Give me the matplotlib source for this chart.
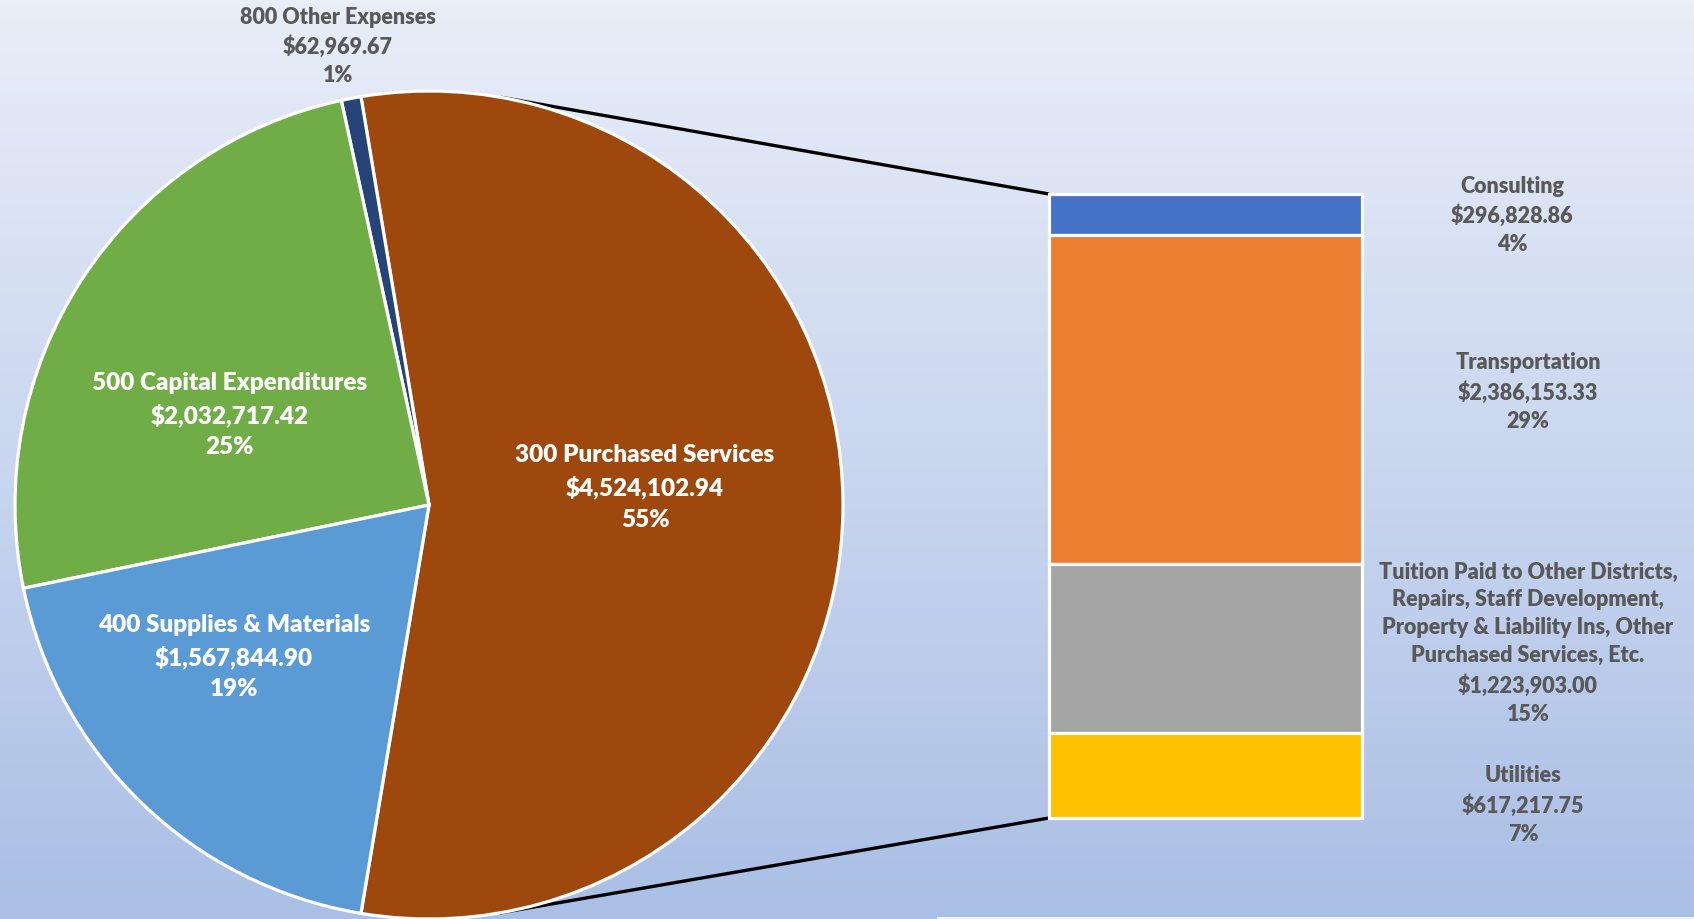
import numpy as np
import matplotlib
matplotlib.use("Agg")
import matplotlib.pyplot as plt
from matplotlib.lines import Line2D
from matplotlib.patches import Rectangle

# Main pie: expenditure categories (300 is broken out in the bar)
pie_names = ["300 Purchased Services", "800 Other Expenses",
             "500 Capital Expenditures", "400 Supplies & Materials"]
pie_values = [4524102.94, 62969.67, 2032717.42, 1567844.90]
pie_pcts = ["55%", "1%", "25%", "19%"]
pie_colors = ["#9E480E", "#264478", "#70AD47", "#5B9BD5"]

# Breakdown of 300 Purchased Services (top to bottom)
bar_names = ["Consulting", "Transportation",
             "Tuition Paid to Other Districts,\nRepairs, Staff Development,\n"
             "Property & Liability Ins, Other\nPurchased Services, Etc.",
             "Utilities"]
bar_values = [296828.86, 2386153.33, 1223903.00, 617217.75]
bar_pcts = ["4%", "29%", "15%", "7%"]
bar_colors = ["#4472C4", "#ED7D31", "#A5A5A5", "#FFC000"]

FONT = ["Lato", "DejaVu Sans"]
GRAY = "#595959"
W, H = 1694, 919
fig = plt.figure(figsize=(W / 100, H / 100), dpi=100)


def px_rect(x0, y0, x1, y1):
    """Figure-fraction rect from a pixel box measured from the top-left."""
    return [x0 / W, 1 - y1 / H, (x1 - x0) / W, (y1 - y0) / H]


# Background with vertical gradient
bg = fig.add_axes([0, 0, 1, 1])
bg.set_axis_off()
t = np.linspace(0, 1, 256)[:, None, None]
c_top = np.array([233, 238, 248]) / 255
c_bot = np.array([170, 191, 230]) / 255
bg.imshow(c_top + t * (c_bot - c_top), extent=[0, W, H, 0], aspect="auto")
bg.add_patch(Rectangle((937, 916.5), W - 937, 3, color="#F4F6FC", lw=0))
bg.set_xlim(0, W)
bg.set_ylim(H, 0)

# Pie geometry (pixels)
cx, cy, r = 429, 505, 414
pad = 12
pax = fig.add_axes(px_rect(cx - r - pad, cy - r - pad, cx + r + pad, cy + r + pad))
lim = (r + pad) / r
total = sum(pie_values)
half = pie_values[0] / total * 180
pax.pie(pie_values, colors=pie_colors, startangle=-half, counterclock=True,
        radius=1, wedgeprops=dict(edgecolor="white", linewidth=2.3))
pax.set_xlim(-lim, lim)
pax.set_ylim(-lim, lim)
pax.set_aspect("equal")
pax.set_axis_off()

# Stacked bar for the breakdown
bx0, by0, bx1, by1 = 1049, 194, 1362, 818
bax = fig.add_axes(px_rect(bx0, by0, bx1, by1))
sub_total = sum(bar_values)
bottom = 0.0
for v, c in zip(bar_values, bar_colors):
    bax.bar(0, v, bottom=bottom, width=1.0, color=c, edgecolor="white",
            linewidth=2.3, clip_on=False)
    bottom += v
bax.set_xlim(-0.5, 0.5)
bax.set_ylim(sub_total, 0)
bax.set_axis_off()


# Series lines: tangents from the pie to the bar corners
def tangent_point(px, py, upper):
    dx, dy = px - cx, py - cy
    dist = np.hypot(dx, dy)
    base = np.arctan2(dy, dx)
    alpha = np.arccos(r / dist)
    ang = base - alpha if upper else base + alpha
    return cx + r * np.cos(ang), cy + r * np.sin(ang)


for (px, py), upper in [((bx0, by0), True), ((bx0, by1), False)]:
    tx, ty = tangent_point(px, py, upper)
    bg.add_line(Line2D([tx, px], [ty, py], color="black", lw=2.4,
                       solid_capstyle="butt", zorder=3))

# Transparent overlay for the data labels, above pie and bar
ov = fig.add_axes([0, 0, 1, 1])
ov.set_axis_off()
ov.patch.set_alpha(0)
ov.set_xlim(0, W)
ov.set_ylim(H, 0)


def money(v):
    return f"${v:,.2f}"


# Pie labels
pie_pos = [(645, 487.5), (338, 46.5), (230, 415), (234, 657)]
pie_col = ["white", GRAY, "white", "white"]
pie_fs = [17.5, 15.5, 17.5, 17.5]
pie_ls = [1.49, 1.41, 1.49, 1.49]
for name, v, pct, (x, y), col, fs, ls in zip(pie_names, pie_values, pie_pcts,
                                             pie_pos, pie_col, pie_fs, pie_ls):
    ov.text(x, y, f"{name}\n{money(v)}\n{pct}", ha="center", va="center",
            multialignment="center", color=col, fontsize=fs, fontweight=800,
            family=FONT, linespacing=ls)

# Bar labels
bar_pos = [(1512, 215.5), (1528, 392), (1528, 643), (1523, 805)]
for name, v, pct, (x, y) in zip(bar_names, bar_values, bar_pcts, bar_pos):
    ov.text(x, y, f"{name}\n{money(v)}\n{pct}", ha="center", va="center",
            multialignment="center", color=GRAY, fontsize=15.5,
            fontweight=800, family=FONT, linespacing=1.41)

fig.savefig("out.png", dpi=100)
